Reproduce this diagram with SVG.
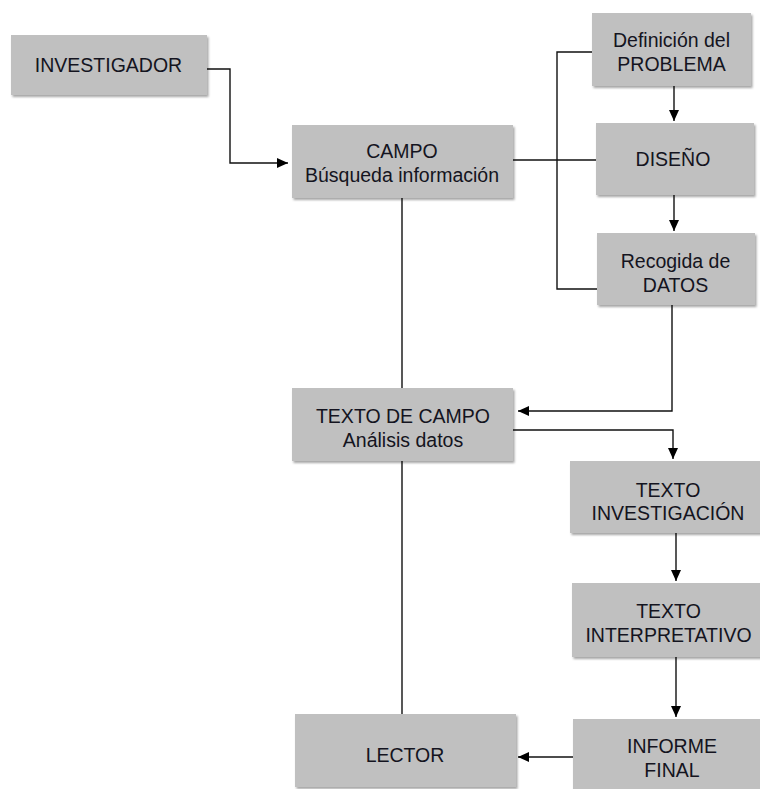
<svg xmlns="http://www.w3.org/2000/svg" width="760" height="789" viewBox="0 0 760 789">
<defs>
<style>
.box{fill:#c0c0c0;filter:url(#sh);}
.t{font-family:"Liberation Sans",Arial,sans-serif;font-size:19.5px;fill:#141420;text-anchor:middle;}
.c{fill:none;stroke:#111;stroke-width:1.4;}
.a{marker-end:url(#ah);}
</style>
<filter id="sh" x="-5%" y="-5%" width="115%" height="120%">
<feDropShadow dx="1.5" dy="2" stdDeviation="1.2" flood-color="#000" flood-opacity="0.35"/>
</filter>
<marker id="ah" markerUnits="userSpaceOnUse" markerWidth="12" markerHeight="12" viewBox="0 0 12 12" refX="11" refY="6" orient="auto">
<path d="M0,1 L11,6 L0,11 Z" fill="#000"/>
</marker>
</defs>
<rect width="760" height="789" fill="#fff"/>
<g id="connectors">
<polyline class="c a" points="207,69 230,69 230,163 288,163"/>
<line class="c" x1="513" y1="160" x2="596" y2="160"/>
<polyline class="c" points="592,52 557,52 557,289 597,289"/>
<line class="c a" x1="674" y1="86" x2="674" y2="121"/>
<line class="c a" x1="674" y1="195" x2="674" y2="231"/>
<line class="c" x1="402" y1="198" x2="402" y2="388"/>
<polyline class="c a" points="672,305 672,411 518,411"/>
<polyline class="c a" points="513,430 673,430 673,459"/>
<line class="c a" x1="676" y1="533" x2="676" y2="581"/>
<line class="c a" x1="676" y1="657" x2="676" y2="717"/>
<line class="c a" x1="573" y1="757" x2="518" y2="757"/>
<line class="c" x1="402" y1="461" x2="402" y2="715"/>
</g>
<g id="investigador">
<rect class="box" x="11" y="35" width="196" height="60"/>
<text class="t" x="108.5" y="72">INVESTIGADOR</text>
</g>
<g id="campo">
<rect class="box" x="292" y="125" width="221" height="73"/>
<text class="t" x="402" y="158">CAMPO</text>
<text class="t" x="402" y="182">Búsqueda información</text>
</g>
<g id="definicion">
<rect class="box" x="592" y="13" width="159" height="73"/>
<text class="t" x="671.5" y="47">Definición del</text>
<text class="t" x="671.5" y="71">PROBLEMA</text>
</g>
<g id="diseno">
<rect class="box" x="596" y="123" width="158" height="72"/>
<text class="t" x="673" y="166">DISEÑO</text>
</g>
<g id="recogida">
<rect class="box" x="597" y="233" width="158" height="72"/>
<text class="t" x="675.5" y="268">Recogida de</text>
<text class="t" x="675.5" y="292">DATOS</text>
</g>
<g id="texto-campo">
<rect class="box" x="292" y="388" width="221" height="73"/>
<text class="t" x="403" y="423">TEXTO DE CAMPO</text>
<text class="t" x="403" y="447">Análisis datos</text>
</g>
<g id="texto-investigacion">
<rect class="box" x="570" y="461" width="196" height="72"/>
<text class="t" x="668" y="497">TEXTO</text>
<text class="t" x="668" y="520">INVESTIGACIÓN</text>
</g>
<g id="texto-interpretativo">
<rect class="box" x="572" y="583" width="196" height="74"/>
<text class="t" x="668.5" y="618">TEXTO</text>
<text class="t" x="668.5" y="642">INTERPRETATIVO</text>
</g>
<g id="informe-final">
<rect class="box" x="573" y="719" width="196" height="74"/>
<text class="t" x="672" y="753">INFORME</text>
<text class="t" x="672" y="777">FINAL</text>
</g>
<g id="lector">
<rect class="box" x="295" y="714" width="221" height="73"/>
<text class="t" x="405" y="762">LECTOR</text>
</g>
</svg>
